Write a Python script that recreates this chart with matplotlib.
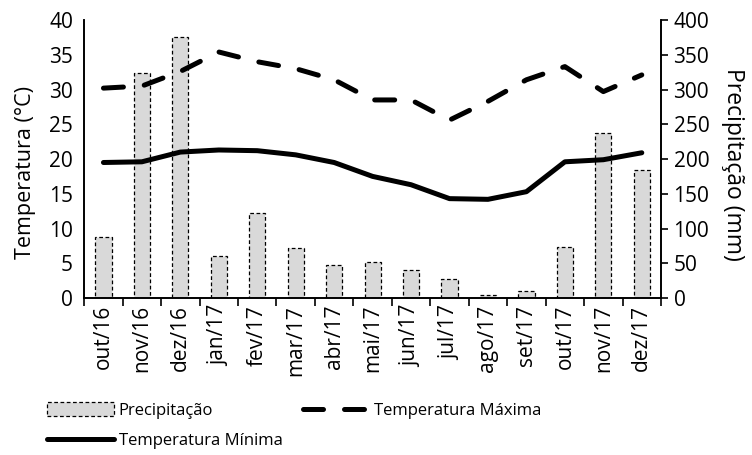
import numpy as np
import matplotlib.pyplot as plt

plt.rcParams['font.family'] = ['Open Sans', 'DejaVu Sans']

# dados mensais
meses = ['out/16', 'nov/16', 'dez/16', 'jan/17', 'fev/17', 'mar/17', 'abr/17',
         'mai/17', 'jun/17', 'jul/17', 'ago/17', 'set/17', 'out/17', 'nov/17', 'dez/17']
precip = [88, 324, 376, 60, 122, 72, 47, 52, 41, 27, 5, 10, 74, 237, 184]  # mm
t_max = [30.2, 30.5, 32.6, 35.4, 34.0, 33.0, 31.4, 28.5, 28.5, 25.6, 28.3, 31.4, 33.3, 29.7, 32.1]
t_min = [19.5, 19.6, 21.0, 21.3, 21.2, 20.6, 19.5, 17.5, 16.3, 14.3, 14.2, 15.3, 19.6, 19.9, 20.9]

x = np.arange(len(meses))

fig = plt.figure(figsize=(7.52, 4.55), dpi=100)
ax = fig.add_axes([0.112, 0.345, 0.767, 0.611])
ax2 = ax.twinx()

# barras de precipitacao no eixo da direita
barras = ax2.bar(x, precip, width=0.42, color='#d9d9d9', edgecolor='black',
                 linestyle=(0, (3, 2)), linewidth=0.9, zorder=1)
ax2.set_ylim(0, 400)
ax2.set_yticks(np.arange(0, 401, 50))

# temperaturas no eixo da esquerda (por cima das barras)
ax.set_zorder(ax2.get_zorder() + 1)
ax.patch.set_visible(False)
l_max, = ax.plot(x, t_max, color='black', linewidth=3.6, linestyle=(0, (4, 4.2)),
                 dash_capstyle='round')
l_min, = ax.plot(x, t_min, color='black', linewidth=3.6, solid_capstyle='round',
                 solid_joinstyle='round')
ax.set_ylim(0, 40)
ax.set_yticks(np.arange(0, 41, 5))
ax.set_xlim(-0.5, len(meses) - 0.5)

# ticks entre categorias, rotulos no centro
ax.set_xticks(x)
ax.set_xticklabels(meses, rotation=90, fontsize=15)
ax.set_xticks(np.arange(-0.5, len(meses)), minor=True)
ax.tick_params(axis='x', which='major', length=0, pad=5)
ax.tick_params(axis='x', which='minor', length=6, width=1.2)
ax.tick_params(axis='y', length=0, labelsize=15, pad=8)
ax2.tick_params(axis='y', length=5, width=1.2, labelsize=15, pad=4)

for a in (ax, ax2):
    a.spines['top'].set_visible(False)
    for s in ('left', 'right', 'bottom'):
        a.spines[s].set_linewidth(1.2)

ax.set_ylabel('Temperatura (°C)', fontsize=15.5)
ax.yaxis.set_label_coords(-0.083, 0.45)
ax2.set_ylabel('Precipitação (mm)', fontsize=16.5, rotation=-90, labelpad=26)
ax2.yaxis.label.set_y(0.48)

fig.legend([barras, l_min, l_max],
           ['Precipitação', 'Temperatura Mínima', 'Temperatura Máxima'],
           ncol=2, loc='lower left', bbox_to_anchor=(0.045, -0.016), frameon=False,
           fontsize=12, handlelength=4.0, handleheight=0.9, handletextpad=0.3,
           columnspacing=1.2, labelspacing=0.8, borderpad=0.3)

fig.savefig('out.png', dpi=100)
